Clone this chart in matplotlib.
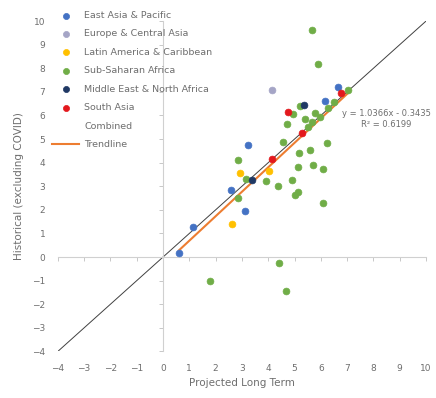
"""
Projected long term vs historical growth, by region
"""

import matplotlib
matplotlib.use('Agg')
import matplotlib.pyplot as plt
import numpy as np
from matplotlib.lines import Line2D

# Data
regions = ['East Asia & Pacific', 'Europe & Central Asia', 'Latin America & Caribbean',
           'Sub-Saharan Africa', 'Middle East & North Africa', 'South Asia']

eap_x = [3.24, 2.59, 3.12, 1.13, 0.61, 6.16, 6.67]
eap_y = [4.75, 2.84, 1.95, 1.28, 0.18, 6.62, 7.20]

eca_x = [4.16]
eca_y = [7.10]

lac_x = [2.93, 4.04, 2.61]
lac_y = [3.55, 3.66, 1.38]

ssa_x = [5.65, 5.90, 7.05, 5.21, 4.95, 5.78, 5.97, 6.29, 5.65, 4.72, 5.53, 5.40,
         6.22, 4.58, 5.17, 5.59, 2.87, 5.14, 5.72, 6.10, 3.17, 3.91, 4.89, 4.38,
         5.14, 5.02, 6.07, 2.86, 4.40, 1.79, 4.66, 6.50]
ssa_y = [9.62, 8.20, 7.10, 6.40, 6.05, 6.09, 5.95, 6.30, 5.73, 5.65, 5.52, 5.85,
         4.82, 4.89, 4.43, 4.53, 4.11, 3.80, 3.90, 3.74, 3.31, 3.21, 3.26, 3.00,
         2.77, 2.63, 2.30, 2.49, -0.24, -1.00, -1.43, 6.55]

mena_x = [5.36, 3.37]
mena_y = [6.44, 3.26]

sa_x = [4.76, 5.27, 4.15, 6.75]
sa_y = [6.16, 5.25, 4.14, 6.95]

# Trendline on combined data, as printed on the chart
trend_slope = 1.0366
trend_icpt = -0.3435
trend_label = 'y = 1.0366x - 0.3435\nR² = 0.6199'

axis_min, axis_max = -4, 10
ticks = list(range(-4, 11))

colors = ['#4472C4', '#A5A5C6', '#FFC000', '#70AD47', '#1F3864', '#E3181D']
text_color = '#6E6E6E'

fig = plt.figure(figsize=(4.36, 3.98), dpi=100)
ax = fig.add_axes([0.1326, 0.117, 0.8445, 0.830])
ax.set_xlim(axis_min, axis_max)
ax.set_ylim(axis_min, axis_max)

# 45 degree reference line
ax.plot([axis_min, axis_max], [axis_min, axis_max], color='#404040', lw=0.7, zorder=1)

series = [(eap_x, eap_y), (eca_x, eca_y), (lac_x, lac_y),
          (ssa_x, ssa_y), (mena_x, mena_y), (sa_x, sa_y)]
for (xs, ys), col, name in zip(series, colors, regions):
    ax.scatter(xs, ys, s=24, color=col, edgecolors=col, linewidths=0.5,
               label=name, zorder=3)

# trendline over the combined x range
all_x = np.concatenate([np.array(s[0]) for s in series])
tx = np.array([all_x.min(), all_x.max()])
ax.plot(tx, trend_slope * tx + trend_icpt, color='#ED7D31', lw=1.5, zorder=2)
ax.text(8.5, 5.85, trend_label, fontsize=6, color=text_color,
        ha='center', va='center', linespacing=1.35)

# axes crossing at zero with small tick marks, labels on the outside
for side in ['top', 'right']:
    ax.spines[side].set_visible(False)
ax.spines['left'].set_position(('data', 0))
ax.spines['bottom'].set_position(('data', 0))
ax.spines['left'].set_color('#D0D0D0')
ax.spines['bottom'].set_color('#D0D0D0')
ax.set_xticks(ticks)
ax.set_yticks(ticks)
ax.tick_params(length=3, width=0.6, color='#BFBFBF', direction='out',
               labelleft=False, labelbottom=False)

secx = ax.secondary_xaxis('bottom')
secx.set_xticks(ticks)
secx.spines['bottom'].set_visible(False)
secx.tick_params(length=0, pad=9, labelsize=6.5, labelcolor=text_color)
secy = ax.secondary_yaxis('left')
secy.set_yticks(ticks)
secy.spines['left'].set_visible(False)
secy.tick_params(length=0, pad=9, labelsize=6.5, labelcolor=text_color)

secx.set_xlabel('Projected Long Term', fontsize=7.5, color=text_color, labelpad=4)
secy.set_ylabel('Historical (excluding COVID)', fontsize=7.5, color=text_color, labelpad=6)

# legend
handles, labels = ax.get_legend_handles_labels()
handles.append(Line2D([], [], linestyle='none'))
labels.append('Combined')
handles.append(Line2D([], [], color='#ED7D31', lw=1.5))
labels.append('Trendline')
leg = ax.legend(handles, labels, loc='upper left', bbox_to_anchor=(52 / 436, 1 - 11 / 398),
                bbox_transform=fig.transFigure, frameon=False, fontsize=6.8,
                labelspacing=1.0, handlelength=2.9, handletextpad=0.5,
                borderpad=0, borderaxespad=0, scatterpoints=1, markerscale=0.9)
for t in leg.get_texts():
    t.set_color(text_color)

plt.savefig('out.png', dpi=100)
plt.close()
